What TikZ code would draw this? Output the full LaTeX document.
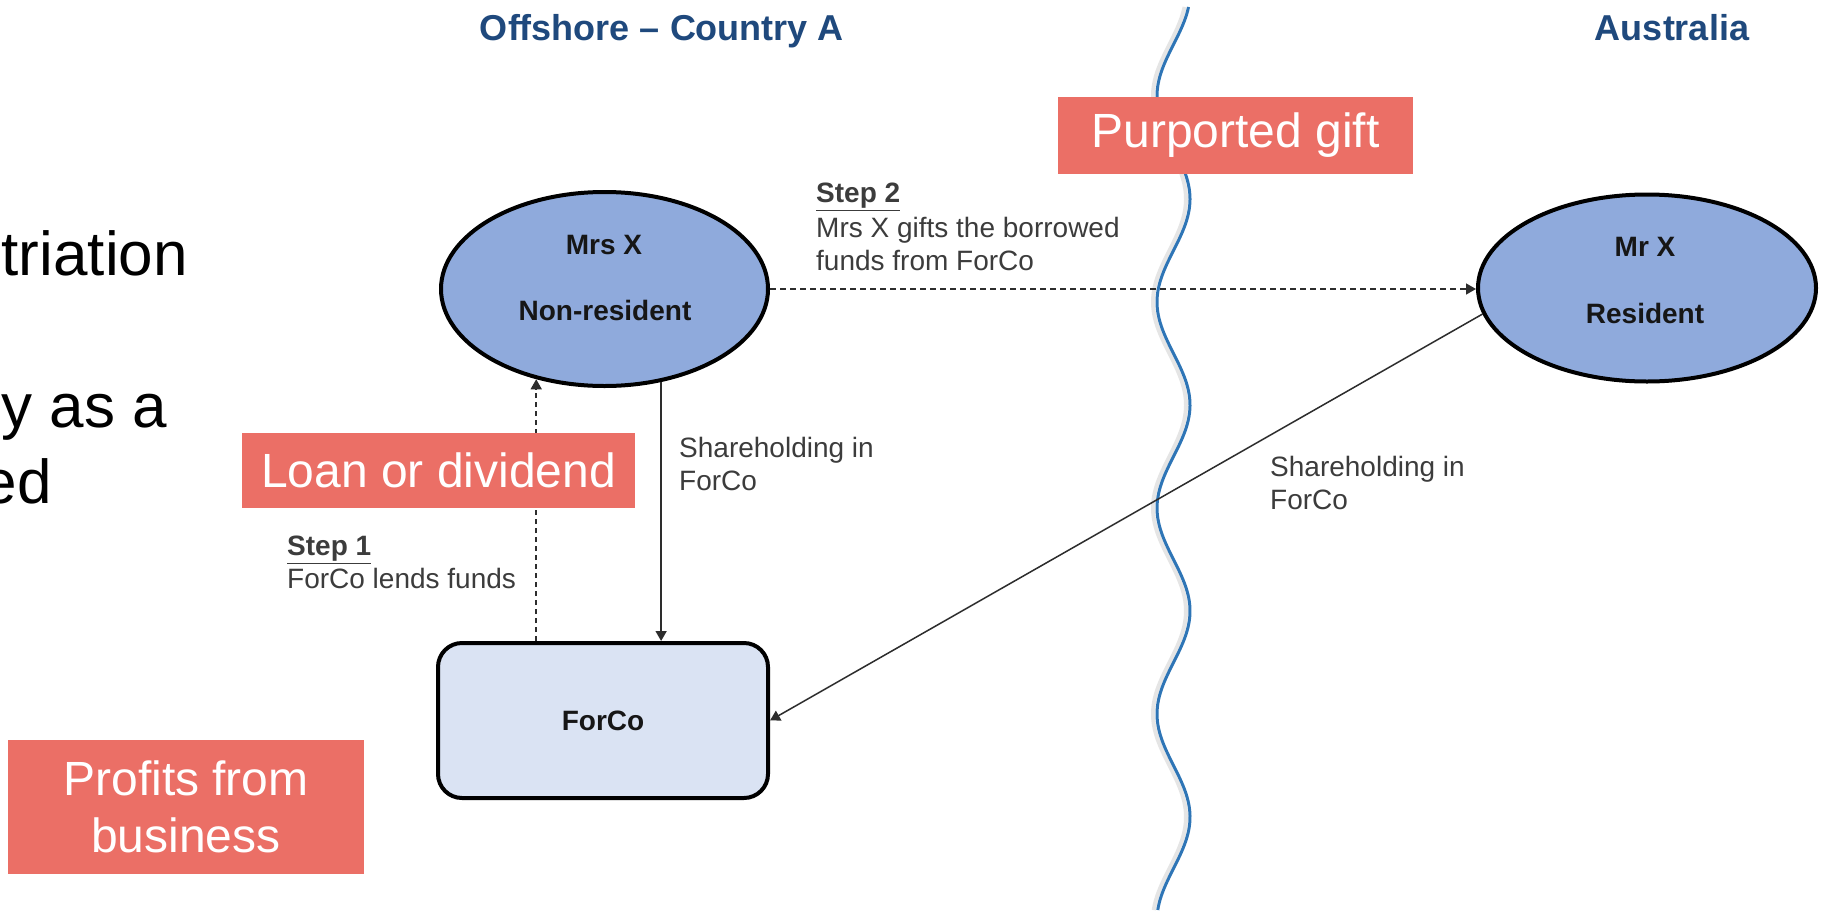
\documentclass[tikz,border=0pt]{standalone}
\usepackage{fontspec}
\setmainfont{Liberation Sans}
\usetikzlibrary{arrows.meta,calc,shapes.geometric}
\definecolor{salmon}{RGB}{235,111,102}
\definecolor{personblue}{RGB}{143,170,220}
\definecolor{forcofill}{RGB}{218,227,243}
\definecolor{titleblue}{RGB}{31,73,125}
\definecolor{wavecol}{RGB}{46,117,182}
\definecolor{labelgray}{RGB}{60,60,60}
\definecolor{nearblack}{RGB}{22,22,22}
\definecolor{conncol}{RGB}{45,45,45}
\tikzset{
  redbox/.style={fill=salmon, text=white, font=\fontsize{48}{57}\selectfont, inner sep=0pt, align=center},
  person/.style={ellipse, draw=black, line width=4pt, fill=personblue, inner sep=0pt},
  companybox/.style={draw=black, line width=4pt, rounded corners=24pt, fill=forcofill, inner sep=0pt},
  boldtxt/.style={font=\bfseries\fontsize{28}{33}\selectfont, text=nearblack, inner sep=0pt},
  graytxt/.style={font=\fontsize{28}{33}\selectfont, text=labelgray, align=left, inner sep=0pt, anchor=north west},
  titletxt/.style={font=\bfseries\fontsize{36}{43}\selectfont, text=titleblue, anchor=base, inner sep=0pt},
  cuttxt/.style={font=\fontsize{62}{74}\selectfont, text=black, anchor=base east, inner sep=0pt},
  conn/.style={line width=1.5pt, draw=conncol, -{Triangle[length=10pt,width=11pt]}},
  dashconn/.style={conn, dash pattern=on 6pt off 4pt}
}
\begin{document}
\begin{tikzpicture}[x=1pt,y=1pt]
\useasboundingbox (0,0) rectangle (1827,-918);
\fill[white] (0,0) rectangle (1827,-918);

% cut-off slide text at the left
\node[cuttxt] (t1) at (188,-275) {triation};
\node[cuttxt] (t2) at (167,-427) {y as a};
\node[cuttxt] (t3) at (52,-503) {ed};

% titles
\node[titletxt] (offshore) at (662,-40) {Offshore – Country A};
\node[titletxt] (australia) at (1672,-40) {Australia};

% border wave
\draw[black!10, line width=4pt] plot[domain=7:910, samples=250, variable=\t, smooth] ({1169.5-16.5*cos(1.7476*(\t-96))}, {-\t});
\draw[wavecol, line width=3pt] plot[domain=7:910, samples=250, variable=\t, smooth] ({1173.5-16.5*cos(1.7476*(\t-96))}, {-\t});

% entities
\node[person, minimum width=327pt, minimum height=194pt] (mrsx) at (604.5,-289) {};
\node[boldtxt] (mrsxname) at (604,-245) {Mrs X};
\node[boldtxt] (mrsxres) at (605,-310) {Non-resident};

\node[person, minimum width=338pt, minimum height=187pt] (mrx) at (1647,-288) {};
\node[boldtxt] (mrxname) at (1645,-247) {Mr X};
\node[boldtxt] (mrxres) at (1645,-313) {Resident};

\node[companybox, boldtxt, minimum width=330pt, minimum height=155pt] (forco) at (603,-720.5) {ForCo};

% connectors
\coordinate (a1) at ($(forco.north west)!0.30!(forco.north east)$);
\coordinate (a2) at ($(forco.north west)!0.674!(forco.north east)$);
\draw[dashconn, dash pattern=on 5pt off 4pt] (a1) -- (mrsx.233 -| a1);
\draw[conn] (mrsx.301 -| a2) -- (a2);
\draw[dashconn] (mrsx.east) -- (mrsx.east -| mrx.west);
\draw[conn] (mrx.189) -- (forco.east);

% labels
\node[graytxt] (step2) at (816,-183) {\textbf{\underline{Step 2}}\\[2pt]Mrs X gifts the borrowed\\funds from ForCo};
\node[graytxt] (share1) at (679,-437) {Shareholding in\\ForCo};
\node[graytxt] (share2) at (1270,-456) {Shareholding in\\ForCo};
\node[graytxt] (step1) at (287,-536) {\textbf{\underline{Step 1}}\\ForCo lends funds};

% red callouts
\node[redbox, minimum width=355pt, minimum height=77pt] (gift) at (1235.5,-135.5) {Purported gift};
\node[redbox, minimum width=393pt, minimum height=75pt] (loan) at (438.5,-470.5) {Loan or dividend};
\node[redbox, minimum width=356pt, minimum height=134pt] (profits) at (186,-807) {Profits from\\business};
\end{tikzpicture}
\end{document}
